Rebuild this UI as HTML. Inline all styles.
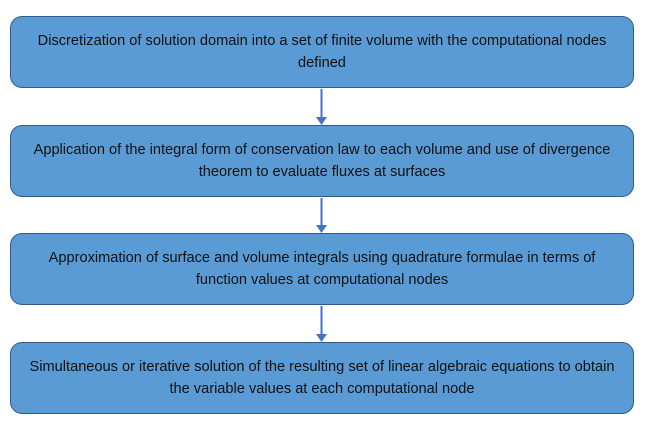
<!DOCTYPE html>
<html><head><meta charset="utf-8"><style>
html,body{margin:0;padding:0;background:#fff;}
body{width:656px;height:425px;position:relative;overflow:hidden;font-family:"Liberation Sans",Arial,sans-serif;}
.b{position:absolute;left:10px;width:622px;height:70px;background:#5b9bd5;border:1px solid #2f5b88;border-radius:12px;display:flex;align-items:center;justify-content:center;text-align:center;font-size:14.6px;line-height:22px;color:#111;box-sizing:content-box;}
.b span{display:block;white-space:nowrap;}
svg{position:absolute;left:0;top:0;}
</style></head><body>
<div class="b" style="top:16px"><span>Discretization of solution domain into a set of finite volume with the computational nodes<br>defined</span></div>
<div class="b" style="top:125px"><span>Application of the integral form of conservation law to each volume and use of divergence<br>theorem to evaluate fluxes at surfaces</span></div>
<div class="b" style="top:233px"><span>Approximation of surface and volume integrals using quadrature formulae in terms of<br>function values at computational nodes</span></div>
<div class="b" style="top:342px"><span>Simultaneous or iterative solution of the resulting set of linear algebraic equations to obtain<br>the variable values at each computational node</span></div>
<svg width="656" height="425">
<g stroke="#4472c4" stroke-width="2" fill="#4472c4">
<line x1="321.5" y1="89" x2="321.5" y2="118"/><polygon points="316,117 327,117 321.5,125" stroke="none"/>
<line x1="321.5" y1="198" x2="321.5" y2="226"/><polygon points="316,225 327,225 321.5,233" stroke="none"/>
<line x1="321.5" y1="306" x2="321.5" y2="335"/><polygon points="316,334 327,334 321.5,342" stroke="none"/>
</g>
</svg>
</body></html>
